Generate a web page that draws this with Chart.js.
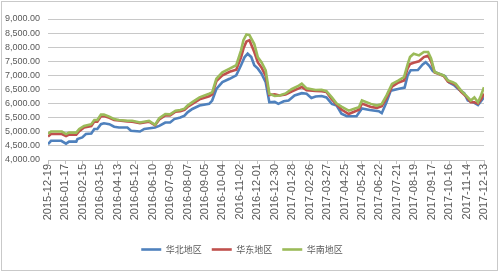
<!DOCTYPE html>
<html><head><meta charset="utf-8">
<script src="https://cdn.jsdelivr.net/npm/chart.js@4/dist/chart.umd.min.js"></script>
<style>html,body{margin:0;padding:0;background:#fff}#wrap{width:499px;height:272px;position:relative}</style>
</head><body><div id="wrap"><canvas id="c"></canvas></div>
<script>
// x tick labels (every 29 days, day 0 = 2015-12-19)
const tickLabels = ["2015-12-19","2016-01-17","2016-02-15","2016-03-15","2016-04-13","2016-05-12","2016-06-10","2016-07-09","2016-08-07","2016-09-05","2016-10-04","2016-11-02","2016-12-01","2016-12-30","2017-01-28","2017-02-26","2017-03-27","2017-04-25","2017-05-24","2017-06-22","2017-07-21","2017-08-19","2017-09-17","2017-10-16","2017-11-14","2017-12-13"];
const seriesNames = ["华北地区","华东地区","华南地区"];

// 华北地区 (day offset, value)
const northDays = [0,5,22,30,35,47,49,57,63,72,77,82,88,93,102,110,118,132,138,153,160,178,185,195,203,210,220,227,232,240,252,268,273,280,290,302,313,321,327,332,338,343,349,355,362,368,377,383,392,400,410,422,430,438,445,455,463,472,480,488,497,513,522,535,550,555,562,570,582,593,598,603,615,623,628,634,640,647,660,667,675,683,692,698,707,715,721,725];
const northValues = [4560,4680,4680,4580,4650,4650,4740,4800,4920,4940,5100,5100,5270,5300,5270,5180,5150,5150,5040,5010,5100,5150,5210,5330,5330,5450,5510,5570,5690,5810,5930,5990,6110,6520,6760,6880,7000,7360,7650,7770,7650,7360,7240,7060,6760,6050,6060,5990,6080,6110,6290,6370,6350,6200,6250,6270,6220,5990,5930,5640,5550,5550,5830,5770,5730,5660,6000,6460,6520,6570,7000,7180,7190,7390,7470,7340,7150,7090,6980,6750,6660,6500,6370,6110,6050,5950,6110,6220];

// 华东 / 华南 share sample days
const southDays = [0,5,23,30,35,47,52,60,72,77,82,88,93,102,110,118,132,140,153,168,178,185,195,203,212,220,227,232,240,252,268,273,280,290,302,313,321,325,330,335,343,349,355,362,368,377,385,395,405,417,422,430,445,455,463,472,480,488,500,508,517,522,537,547,555,563,572,583,592,598,602,608,617,625,632,637,643,650,658,665,673,678,687,695,703,709,715,720,725];
const eastValues = [4830,4920,4920,4850,4900,4900,5020,5150,5200,5360,5360,5550,5560,5500,5420,5400,5370,5360,5310,5360,5230,5440,5580,5580,5710,5730,5780,5880,5990,6150,6260,6330,6800,7000,7130,7200,7640,7950,8200,8250,7830,7460,7280,6980,6300,6330,6290,6320,6430,6540,6590,6470,6450,6440,6410,6150,5960,5790,5630,5700,5780,6000,5880,5850,5910,6200,6600,6750,6820,7250,7400,7450,7500,7650,7700,7500,7100,7050,6980,6780,6720,6660,6420,6260,6050,6050,6000,6150,6350];
const southValues = [4930,5010,5010,4920,4970,4970,5100,5210,5270,5420,5420,5610,5610,5540,5450,5420,5390,5390,5330,5390,5250,5480,5630,5620,5750,5770,5820,5930,6050,6220,6350,6400,6880,7110,7240,7360,7890,8250,8450,8430,8110,7640,7470,7180,6350,6270,6290,6360,6510,6640,6710,6540,6480,6490,6440,6220,6000,5890,5750,5810,5870,6110,5990,5930,5990,6290,6700,6820,6940,7390,7650,7770,7710,7830,7830,7600,7120,7060,7000,6820,6760,6700,6460,6290,6110,6220,6050,6290,6580];

const colors = ["#4F81BD","#C0504D","#9BBB59"];
const pts = (d, v) => d.map((x, i) => ({x: x, y: v[i]}));

const frame = {
  id: 'frame',
  beforeDraw(chart) {
    const ctx = chart.ctx;
    ctx.save();
    ctx.fillStyle = '#ffffff';
    ctx.fillRect(0, 0, chart.width, chart.height);
    ctx.strokeStyle = '#c9c9c9';
    ctx.lineWidth = 1;
    ctx.strokeRect(1.5, 1.5, chart.width - 3, chart.height - 3);
    ctx.restore();
  }
};

const mk = (i, data, order) => ({
  label: seriesNames[i], data: data, borderColor: colors[i], backgroundColor: colors[i],
  borderWidth: 2.6, pointRadius: 0, tension: 0, fill: false, order: order
});

new Chart(document.getElementById('c'), {
  type: 'line',
  data: { datasets: [
    mk(0, pts(northDays, northValues), 2),
    mk(1, pts(southDays, eastValues), 1),
    mk(2, pts(southDays, southValues), 0)
  ]},
  options: {
    responsive: true, maintainAspectRatio: false, animation: false,
    layout: { padding: { left: 0, right: 15, top: 19, bottom: 8 } },
    plugins: {
      tooltip: { enabled: false },
      legend: {
        position: 'bottom',
        labels: {
          sort: (a, b) => a.datasetIndex - b.datasetIndex,
          usePointStyle: true, pointStyle: 'line', pointStyleWidth: 20,
          boxHeight: 10, padding: 10,
          color: '#595959', font: { family: "'Noto Sans CJK SC', sans-serif", size: 9 }
        }
      }
    },
    scales: {
      x: {
        type: 'linear', min: 0, max: 725,
        afterBuildTicks: (s) => { s.ticks = tickLabels.map((_, i) => ({ value: i * 29 })); },
        afterFit: (s) => { s.height = 75; },
        ticks: {
          autoSkip: false, minRotation: 90, maxRotation: 90, padding: 0,
          color: '#595959', font: { family: "'Liberation Sans', Arial, sans-serif", size: 11 },
          callback: (v) => tickLabels[Math.round(v / 29)]
        },
        grid: { display: true, drawOnChartArea: false, drawTicks: true, tickLength: 4, color: '#bfbfbf' },
        border: { display: true, color: '#bfbfbf' }
      },
      y: {
        min: 4000, max: 9000,
        afterFit: (s) => { s.width = 48; },
        ticks: {
          stepSize: 500, padding: 8, color: '#595959',
          font: { family: "'Liberation Sans', Arial, sans-serif", size: 9 },
          callback: (v) => v.toLocaleString('en-US', { minimumFractionDigits: 2, maximumFractionDigits: 2 })
        },
        grid: { color: '#c8c8c8', drawTicks: false },
        border: { display: false }
      }
    }
  },
  plugins: [frame]
});
</script>
</body></html>
